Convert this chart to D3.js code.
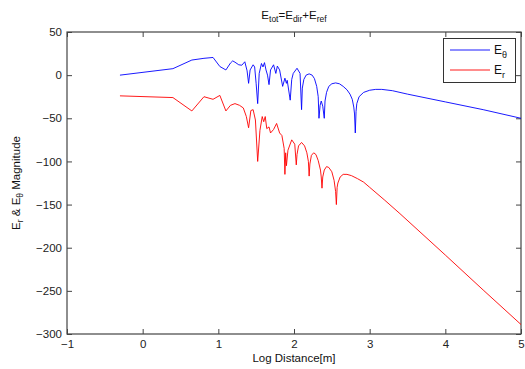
<!DOCTYPE html>
<html><head><meta charset="utf-8">
<script src="https://cdn.jsdelivr.net/npm/d3@7"></script>
<style>
body{margin:0;background:#fff;}
text{font-family:"Liberation Sans",Arial,sans-serif;}
</style></head>
<body><svg id="c" width="525" height="369"></svg>
<script>
const xTicks = [-1,0,1,2,3,4,5];
const yTicks = [50,0,-50,-100,-150,-200,-250,-300];
const legendLabels = ["θ","r"];

const thetaX = [-0.30,0.40,0.65,0.81,0.93,1.02,1.10,1.16,1.19,1.22,1.27,1.31,1.35,1.38,1.40,1.42,1.46,1.48,1.50,1.52,1.54,1.57,1.59,1.61,1.63,1.65,1.67,1.69,1.73,1.76,1.78,1.81,1.85,1.88,1.90,1.91,1.95,1.97,1.99,2.04,2.08,2.10,2.11,2.13,2.16,2.20,2.24,2.27,2.30,2.32,2.33,2.345,2.36,2.38,2.40,2.41,2.43,2.46,2.50,2.55,2.60,2.65,2.70,2.74,2.77,2.79,2.80,2.81,2.82,2.83,2.86,2.92,3.00,3.08,3.16,3.30,3.50,4.00,4.50,5.00];
const thetaY = [0,7.5,17.5,19.5,20.5,10,6,14,16.5,15,12,11.5,15.5,5,-9.5,6,12,9.5,-10,-33,2,13.5,9.5,14.5,6,0,-11,6,12,2,10.5,6,-13,-3.5,-9.5,-6,-29,-5,2,8,2,-40,-15,-5,0,1.5,0,-4,-13,-25,-50,-35,-30,-36,-50,-30,-20,-13,-10,-9,-10,-13,-17,-22,-28,-37,-45,-67,-42,-33,-25,-20,-17.5,-16.5,-16.5,-18,-22,-31,-40,-50];

const rX = [-0.30,0.40,0.65,0.81,0.93,1.02,1.10,1.16,1.22,1.28,1.33,1.37,1.40,1.43,1.46,1.49,1.52,1.55,1.58,1.60,1.62,1.64,1.67,1.69,1.73,1.77,1.81,1.84,1.87,1.88,1.89,1.90,1.92,1.97,2.01,2.03,2.04,2.06,2.10,2.14,2.17,2.19,2.20,2.21,2.23,2.26,2.29,2.32,2.35,2.36,2.37,2.38,2.40,2.43,2.46,2.50,2.53,2.55,2.56,2.57,2.58,2.61,2.65,2.70,2.76,2.84,2.92,3.00,3.20,3.40,4.00,4.50,5.00];
const rY = [-24,-26,-41.5,-25,-28,-23.5,-41.5,-35,-33,-35,-38,-48,-61,-41,-40,-52,-100,-64,-48,-54,-48,-62,-60,-67,-63,-56,-67,-70,-85,-115,-90,-105,-87,-75,-80,-104,-92,-82,-78,-82,-90,-100,-117,-103,-93,-90,-92,-99,-110,-118,-131,-118,-110,-106,-107,-112,-122,-135,-150,-130,-125,-118,-115,-115,-116.5,-120,-124,-130,-145,-160.5,-208.5,-249,-289];

const W=525,H=369, m={l:67,r:4,t:32,b:35};
const svg=d3.select("#c");
const x=d3.scaleLinear().domain([-1,5]).range([m.l,W-m.r]);
const y=d3.scaleLinear().domain([-300,50]).range([H-m.b,m.t]);
const axCol="#444";

const g=svg.append("g");
g.append("rect").attr("x",m.l).attr("y",m.t).attr("width",W-m.l-m.r).attr("height",H-m.t-m.b)
 .attr("fill","#fff").attr("stroke",axCol).attr("stroke-width",1.2);

function styleAx(sel,noLabels){
  sel.select(".domain").remove();
  sel.selectAll(".tick line").attr("stroke",axCol);
  sel.selectAll(".tick text").attr("fill","#222").style("font-size","11.5px");
  if(noLabels) sel.selectAll(".tick text").remove();
}
g.append("g").attr("transform",`translate(0,${H-m.b})`)
 .call(d3.axisBottom(x).tickValues(xTicks).tickSize(-5).tickPadding(6).tickFormat(d3.format("d")))
 .call(s=>styleAx(s,false));
g.append("g").attr("transform",`translate(0,${m.t})`)
 .call(d3.axisTop(x).tickValues(xTicks).tickSize(-5))
 .call(s=>styleAx(s,true));
g.append("g").attr("transform",`translate(${m.l},0)`)
 .call(d3.axisLeft(y).tickValues(yTicks).tickSize(-5).tickPadding(5).tickFormat(d3.format("d")))
 .call(s=>styleAx(s,false));
g.append("g").attr("transform",`translate(${W-m.r},0)`)
 .call(d3.axisRight(y).tickValues(yTicks).tickSize(-5))
 .call(s=>styleAx(s,true));
svg.selectAll(".tick text").attr("font-family",null);

const line=d3.line().x(d=>x(d[0])).y(d=>y(d[1]));
g.append("path").datum(rX.map((v,i)=>[v,rY[i]])).attr("d",line)
 .attr("fill","none").attr("stroke","#ff0000").attr("stroke-width",0.9);
g.append("path").datum(thetaX.map((v,i)=>[v,thetaY[i]])).attr("d",line)
 .attr("fill","none").attr("stroke","#0000ff").attr("stroke-width",0.9);

// title
const t=svg.append("text").attr("x",(m.l+W-m.r)/2).attr("y",19).attr("text-anchor","middle")
 .style("font-size","11.5px").attr("fill","#111");
t.append("tspan").text("E");
t.append("tspan").text("tot").style("font-size","8.5px").attr("dy",3);
t.append("tspan").text("=E").attr("dy",-3);
t.append("tspan").text("dir").style("font-size","8.5px").attr("dy",3);
t.append("tspan").text("+E").attr("dy",-3);
t.append("tspan").text("ref").style("font-size","8.5px").attr("dy",3);

// x label
svg.append("text").attr("x",(m.l+W-m.r)/2).attr("y",362).attr("text-anchor","middle")
 .style("font-size","11.5px").attr("fill","#111").text("Log Distance[m]");

// y label
const yl=svg.append("text").attr("transform",`translate(20,${(m.t+H-m.b)/2}) rotate(-90)`)
 .attr("text-anchor","middle").style("font-size","11.5px").attr("fill","#111");
yl.append("tspan").text("E");
yl.append("tspan").text("r").style("font-size","8.5px").attr("dy",3);
yl.append("tspan").text(" & E").attr("dy",-3);
yl.append("tspan").text("θ").style("font-size","8.5px").attr("dy",3);
yl.append("tspan").text(" Magnitude").attr("dy",-3);

// legend
const lg=svg.append("g");
lg.append("rect").attr("x",443.5).attr("y",38.5).attr("width",72).attr("height",44)
 .attr("fill","#fff").attr("stroke","#333").attr("stroke-width",1);
const cols=["#0000ff","#ff0000"];
legendLabels.forEach((s,i)=>{
  const yy=50+i*20;
  lg.append("line").attr("x1",450).attr("x2",490).attr("y1",yy).attr("y2",yy)
   .attr("stroke",cols[i]).attr("stroke-width",0.9);
  const tx=lg.append("text").attr("x",494).attr("y",yy+4).style("font-size","12px").attr("fill","#111");
  tx.append("tspan").text("E");
  tx.append("tspan").text(s).style("font-size","9px").attr("dy",4);
});
</script></body></html>
